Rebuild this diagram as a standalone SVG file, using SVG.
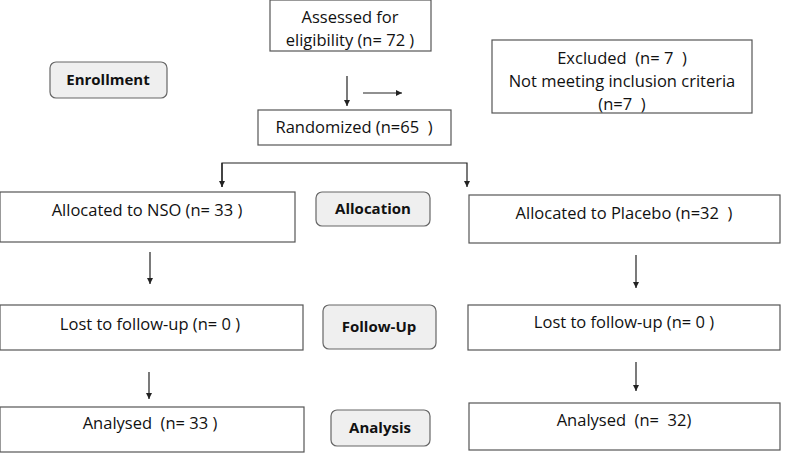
<svg xmlns="http://www.w3.org/2000/svg" width="800" height="455" viewBox="0 0 800 455">
<style>
.b{fill:#fff;stroke:#555;stroke-width:1.2}
.l{fill:#efefef;stroke:#666;stroke-width:1.2}
text{font-family:"Open Sans","Liberation Sans",sans-serif;font-size:16.5px;fill:#111;text-anchor:middle}
.h{font-weight:bold;font-size:15px}
.c line,.c path{stroke:#222;stroke-width:1.2;fill:none;marker-end:url(#a)}
</style>
<defs><marker id="a" markerWidth="8" markerHeight="8" refX="6" refY="3" orient="auto" markerUnits="userSpaceOnUse"><path d="M0,0L6,3L0,6z" fill="#222"/></marker></defs>
<rect width="800" height="455" fill="#fff"/>
<g id="assessed"><rect class="b" x="270" y="0" width="161" height="51"/><text x="350" y="23">Assessed for</text><text x="350" y="46">eligibility (n= 72 )</text></g>
<g id="excluded"><rect class="b" x="492" y="40" width="260" height="73"/><text x="622" y="64">Excluded &#160;(n= 7 &#160;)</text><text x="622" y="87">Not meeting inclusion criteria</text><text x="622" y="110">(n=7 &#160;)</text></g>
<g id="randomized"><rect class="b" x="258" y="110" width="193" height="35"/><text x="354" y="133">Randomized (n=65 &#160;)</text></g>
<g id="enrollment"><rect class="l" x="50" y="62" width="117" height="36" rx="6"/><text class="h" x="108" y="85">Enrollment</text></g>
<g id="allocation"><rect class="l" x="316" y="192" width="114" height="34" rx="6"/><text class="h" x="373" y="214">Allocation</text></g>
<g id="followup"><rect class="l" x="323" y="305" width="113" height="44" rx="6"/><text class="h" x="379" y="332">Follow-Up</text></g>
<g id="analysis"><rect class="l" x="331" y="410" width="99" height="36" rx="6"/><text class="h" x="380" y="433">Analysis</text></g>
<g id="allocNSO"><rect class="b" x="0" y="192" width="295" height="50"/><text x="147" y="216">Allocated to NSO (n= 33 )</text></g>
<g id="allocPlacebo"><rect class="b" x="469" y="195" width="311" height="48"/><text x="624" y="219">Allocated to Placebo (n=32 &#160;)</text></g>
<g id="lostNSO"><rect class="b" x="0" y="305" width="303" height="45"/><text x="150" y="330">Lost to follow-up (n= 0 )</text></g>
<g id="lostPlacebo"><rect class="b" x="468" y="305" width="312" height="45"/><text x="624" y="328">Lost to follow-up (n= 0 )</text></g>
<g id="anNSO"><rect class="b" x="0" y="407" width="304" height="45"/><text x="150" y="429">Analysed &#160;(n= 33 )</text></g>
<g id="anPlacebo"><rect class="b" x="469" y="403" width="311" height="47"/><text x="624" y="426">Analysed &#160;(n= &#160;32)</text></g>
<g class="c" id="connectors">
<line x1="347" y1="76" x2="347" y2="106"/>
<line x1="363" y1="93" x2="402" y2="93"/>
<path d="M222,187V163H467V187"/>
<line x1="222" y1="163" x2="222" y2="187"/>
<line x1="150" y1="252" x2="150" y2="284"/>
<line x1="149" y1="372" x2="149" y2="399"/>
<line x1="636" y1="255" x2="636" y2="288"/>
<line x1="636" y1="362" x2="636" y2="391"/>
</g>
</svg>
